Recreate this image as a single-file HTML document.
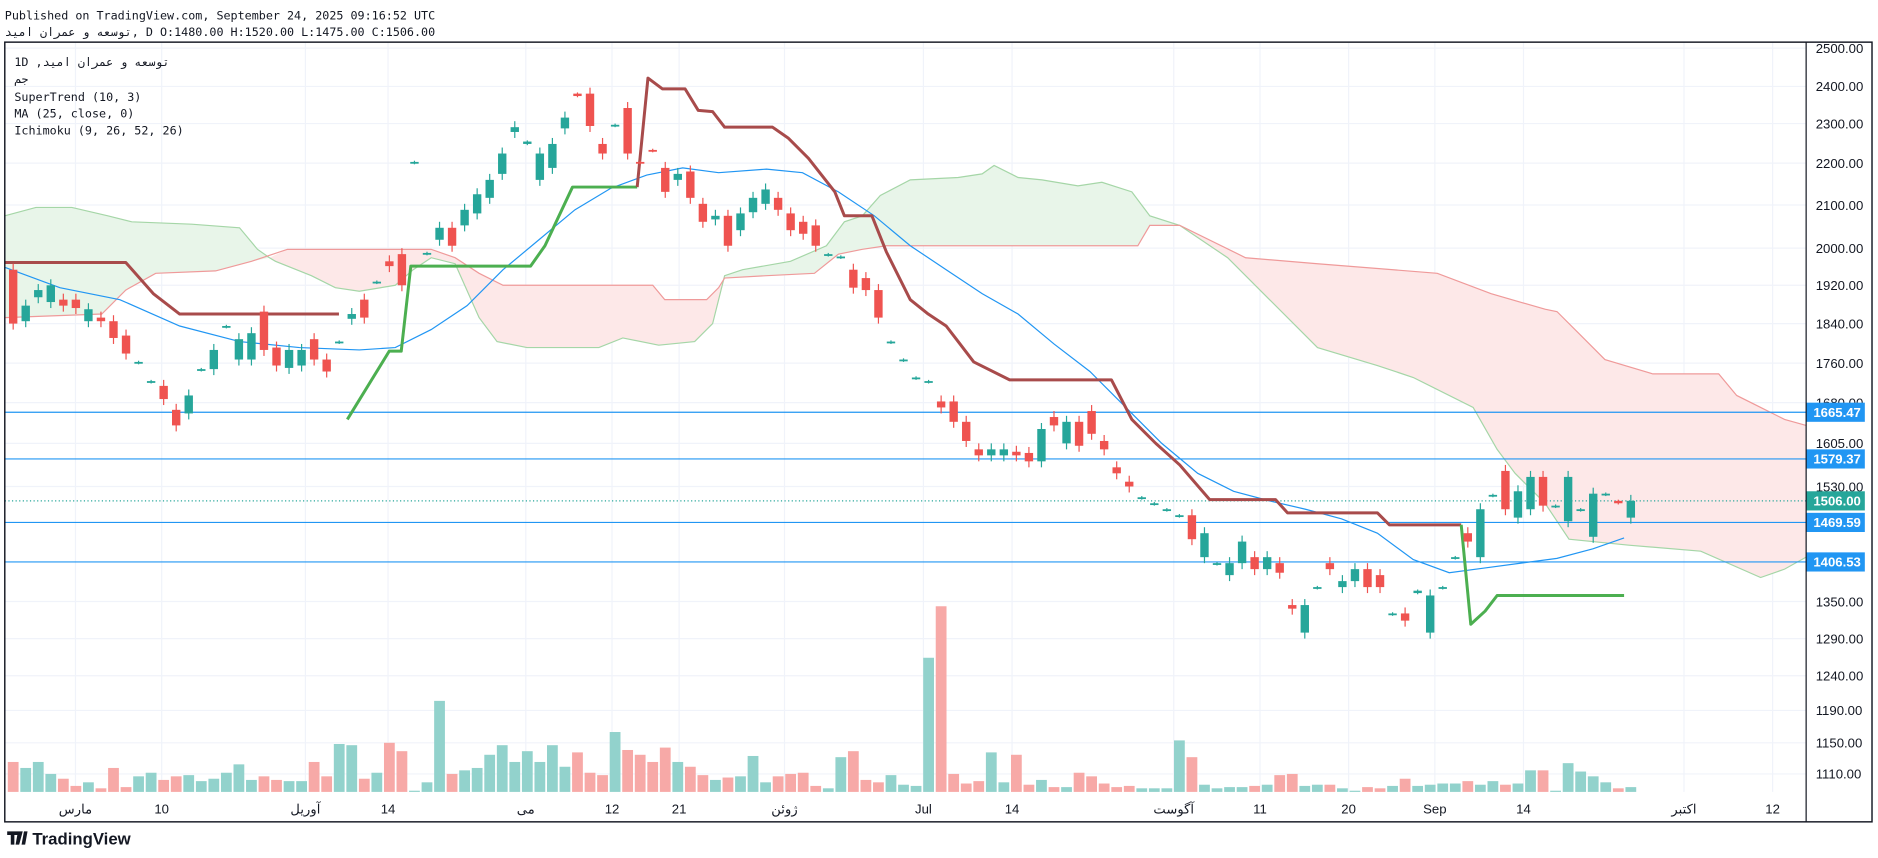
<!DOCTYPE html>
<html><head><meta charset="utf-8"><style>
html,body{margin:0;padding:0;background:#fff;}
svg{display:block}
text{font-family:"DejaVu Sans Mono","Liberation Mono","Noto Sans CJK SC",monospace;}
.ax{font-family:"Liberation Sans","Noto Sans CJK SC",sans-serif;}
</style></head><body>
<svg id="s" width="1878" height="858" viewBox="0 0 1568 716" xmlns="http://www.w3.org/2000/svg">
<rect width="1568" height="716" fill="#fff"/>
<g id="grid"></g>
<g id="cloud">
<polygon fill="#e8f5e9" points="4,180 30,173 60,173 90,180 110,185 160,187 200,190 215,208 225,215 210,218 180,226 130,228 105,242 85,262 4,265"/>
<polygon fill="#fde8e8" points="225,215 240,208 360,208 380,215 400,228 420,238 545,238 555,250 590,250 600,240 605,232 595,270 580,285 550,288 520,282 500,290 440,290 415,285 400,265 380,220 360,215 345,225 330,238 300,243 280,240 260,230 230,218"/>
<polygon fill="#e8f5e9" points="605,230 620,225 660,218 690,205 705,185 720,180 735,163 760,150 800,148 820,145 830,138 850,148 870,150 900,155 920,152 945,160 960,180 985,188 960,188 950,205 740,205 720,208 700,212 680,228 640,230 605,232"/>
<polygon fill="#fde8e8" points="985,188 1040,215 1100,220 1200,228 1245,245 1290,258 1300,260 1320,280 1340,300 1380,312 1435,312 1450,330 1470,340 1490,350 1508,355 1508,465 1490,475 1470,482 1420,460 1360,455 1310,450 1290,420 1265,395 1250,375 1230,340 1180,315 1150,305 1100,290 1060,250 1025,215"/>
<polyline fill="none" stroke="#a5d6a7" stroke-width="1" points="4,180 30,173 60,173 90,180 110,185 160,187 200,190 215,208 225,215 230,218 260,230 280,240 300,243 330,238 345,225 360,215 380,220 400,265 415,285 440,290 500,290 520,282 550,288 580,285 595,270 605,230 620,225 660,218 690,205 705,185 720,180 735,163 760,150 800,148 820,145 830,138 850,148 870,150 900,155 920,152 945,160 960,180 985,188 1025,215 1060,250 1100,290 1150,305 1180,315 1230,340 1250,375 1265,395 1290,420 1310,450 1360,455 1420,460 1470,482 1490,475 1508,465"/>
<polyline fill="none" stroke="#ef9a9a" stroke-width="1" points="4,265 85,262 105,242 130,228 180,226 210,218 240,208 360,208 380,215 400,228 420,238 545,238 555,250 590,250 600,240 605,232 640,230 680,228 700,212 720,208 740,205 950,205 960,188 985,188 1040,215 1100,220 1200,228 1245,245 1290,258 1300,260 1320,280 1340,300 1380,312 1435,312 1450,330 1470,340 1490,350 1508,355"/>
</g>
<g id="vol"></g>
<g id="hl"></g>
<polyline fill="none" stroke="#2196f3" stroke-width="1" points="4,223 50,240 100,250 150,272 200,285 250,290 300,292 330,290 360,275 390,255 420,225 450,200 480,175 510,157 540,146 570,140 600,144 640,141 670,144 700,160 730,180 760,205 790,225 820,245 850,262 880,287 910,310 940,340 970,370 1000,395 1030,410 1060,418 1090,425 1120,433 1150,445 1180,467 1210,478 1240,474 1270,470 1300,466 1330,458 1356,449"/>
<g fill="none" stroke-width="2.5" stroke-linejoin="round">
<polyline stroke="#a84b4b" points="4,219 105,219 128,245 150,262 283,262"/>
<polyline stroke="#4caf50" points="290,350 325,293 335,293 343,222 443,222 455,205 478,156 532,156"/>
<polyline stroke="#a84b4b" points="532,156 541,65 553,74 572,74 583,92 595,93 605,106 645,106 658,115 675,132 697,160 705,180 728,180 740,210 760,250 775,262 790,272 800,285 813,302 843,317 928,317 945,350 965,370 985,388 1010,417 1065,417 1075,428 1150,428 1160,438 1220,438"/>
<polyline stroke="#4caf50" points="1220,438 1228,521 1240,510 1250,497 1356,497"/>
</g>
<g id="candles"></g>
<g id="axis"></g>
<rect x="4" y="35" width="1559" height="651" fill="none" stroke="#131722" stroke-width="1.2"/>
<line x1="1508" y1="35" x2="1508" y2="686" stroke="#131722" stroke-width="1"/>
<text x="4" y="16" font-size="9.8" fill="#131722">Published on TradingView.com, September 24, 2025 09:16:52 UTC</text>
<text x="4" y="30" font-size="9.8" fill="#131722"><tspan>توسعه و عمران امید</tspan>, D O:1480.00 H:1520.00 L:1475.00 C:1506.00</text>
<g font-size="9.8" fill="#131722">
<text x="12" y="55">1D ,<tspan>توسعه و عمران امید</tspan></text>
<text x="12" y="69">جم</text>
<text x="12" y="84">SuperTrend (10, 3)</text>
<text x="12" y="98">MA (25, close, 0)</text>
<text x="12" y="112">Ichimoku (9, 26, 52, 26)</text>
</g>
<g fill="#131722">
<path d="M6 694h9v3h-3v8h-3v-8h-3z M15 694h4l-3 11h-3z M20 694h3l-2 11h-3z"/>
<text x="27" y="705" class="ax" font-size="14" font-weight="bold">TradingView</text>
</g>
</svg>
<script>
const NS="http://www.w3.org/2000/svg";
function el(p,t,a){const e=document.createElementNS(NS,t);for(const k in a)e.setAttribute(k,a[k]);document.getElementById(p).appendChild(e);return e;}
const ticks=[["2500.00",40],["2400.00",72],["2300.00",103],["2200.00",136],["2100.00",171],["2000.00",207],["1920.00",238],["1840.00",270],["1760.00",303],["1680.00",336],["1605.00",370],["1530.00",406],["1350.00",502],["1290.00",533],["1240.00",564],["1190.00",593],["1150.00",620],["1110.00",646]];
ticks.forEach(t=>{el("grid","line",{x1:4,x2:1508,y1:t[1],y2:t[1],stroke:"#f0f3fa"});
 const tx=el("axis","text",{x:1516,y:t[1]+4,"font-size":11,fill:"#131722",class:"ax"});tx.textContent=t[0];});
const tl=[["مارس",63],["10",135],["آوريل",255],["14",324],["می",439],["12",511],["21",567],["ژوئن",655],["Jul",771],["14",845],["آگوست",980],["11",1052],["20",1126],["Sep",1198],["14",1272],["اکتبر",1406],["12",1480]];
tl.forEach(t=>{el("grid","line",{x1:t[1],x2:t[1],y1:35,y2:661,stroke:"#f0f3fa"});
 const tx=el("axis","text",{x:t[1],y:679,"font-size":11,fill:"#131722","text-anchor":"middle",class:"ax"});tx.textContent=t[0];});
const C=[[225,270,'r'],[255,268,'g'],[242,248,'g'],[238,252,'g'],[250,255,'r'],[250,257,'r'],[258,268,'g'],[265,268,'r'],[268,282,'r'],[280,295,'r'],[302,303,'g'],[318,319,'g'],[322,333,'r'],[342,355,'r'],[330,345,'g'],[308,309,'g'],[292,308,'g'],[272,273,'g'],[283,300,'g'],[278,300,'g'],[260,292,'r'],[290,305,'r'],[292,307,'g'],[292,305,'g'],[283,300,'r'],[300,310,'r'],[285,286,'g'],[262,266,'g'],[250,265,'r'],[235,236,'g'],[218,222,'r'],[212,238,'r'],[135,136,'g'],[211,212,'g'],[190,200,'g'],[190,205,'r'],[175,188,'g'],[162,178,'g'],[150,165,'g'],[128,145,'g'],[106,110,'g'],[118,120,'g'],[128,150,'g'],[120,140,'g'],[98,107,'g'],[78,80,'r'],[78,105,'r'],[120,128,'r'],[104,105,'g'],[90,128,'r'],[135,136,'r'],[125,126,'r'],[140,160,'r'],[145,150,'g'],[143,165,'r'],[170,185,'r'],[180,183,'g'],[180,205,'r'],[178,192,'g'],[165,177,'g'],[158,170,'g'],[165,175,'r'],[178,192,'r'],[185,195,'r'],[188,205,'r'],[212,213,'g'],[214,215,'g'],[225,240,'r'],[232,242,'r'],[242,265,'r'],[285,286,'g'],[300,301,'g'],[315,316,'g'],[318,319,'g'],[335,340,'r'],[335,352,'r'],[352,368,'r'],[375,380,'r'],[375,380,'g'],[375,380,'g'],[377,380,'r'],[378,385,'r'],[358,385,'g'],[348,355,'r'],[352,370,'g'],[352,372,'r'],[343,362,'r'],[368,375,'r'],[390,395,'r'],[402,406,'r'],[415,416,'g'],[420,421,'g'],[425,426,'g'],[430,431,'g'],[430,450,'r'],[445,465,'g'],[470,471,'g'],[470,480,'g'],[452,470,'g'],[465,475,'r'],[465,475,'g'],[470,478,'r'],[505,508,'r'],[505,528,'g'],[490,491,'g'],[470,475,'r'],[485,490,'g'],[475,485,'g'],[475,490,'r'],[480,490,'r'],[512,513,'g'],[512,518,'r'],[493,495,'g'],[497,528,'g'],[490,491,'g'],[465,466,'g'],[445,452,'r'],[425,465,'g'],[413,414,'g'],[393,425,'r'],[410,432,'g'],[398,425,'g'],[398,422,'r'],[422,423,'g'],[398,435,'g'],[425,426,'g'],[412,448,'g'],[412,413,'g'],[418,420,'r'],[418,432,'g']];
const V=[25,20,25,15,11,5,8,3,20,4,13,16,10,13,14,9,11,16,23,10,13,10,9,9,25,13,40,39,11,16,41,34,1,8,76,15,18,20,31,39,25,34,25,39,21,33,16,14,50,35,31,25,37,25,21,14,10,12,13,30,8,13,15,16,5,3,29,34,10,8,14,6,5,112,155,15,7,9,33,8,31,6,10,4,4,16,13,7,4,5,3,3,3,43,29,6,3,4,4,5,6,14,15,5,6,6,3,1,4,3,5,11,5,6,7,7,9,6,9,6,7,18,18,1,24,17,13,8,3,4];
C.forEach((c,i)=>{const x=11+i*10.47;const col=c[2]=='g'?'#26a69a':'#ef5350';
 const v=V[i]||3;el("vol","rect",{x:x-4.5,y:661-v,width:9,height:v,fill:c[2]=='g'?'#92d2cc':'#f7a9a7'});
 const d=c[1]-c[0];const h=Math.max(d,1.5);const w=d<3?1:5;
 el("candles","line",{x1:x,x2:x,y1:c[0]-w,y2:c[1]+w,stroke:col,"stroke-width":1});
 el("candles","rect",{x:x-3.5,y:c[0],width:7,height:h,fill:col});});
const H=[[344,"1665.47","#2196f3"],[383,"1579.37","#2196f3"],[436,"1469.59","#2196f3"],[469,"1406.53","#2196f3"]];
H.forEach(h=>{el("hl","line",{x1:4,x2:1508,y1:h[0],y2:h[0],stroke:h[2],"stroke-width":1});});
el("hl","line",{x1:4,x2:1508,y1:418,y2:418,stroke:"#26a69a","stroke-width":1,"stroke-dasharray":"1,2"});
H.concat([[418,"1506.00","#26a69a"]]).forEach(h=>{el("axis","rect",{x:1508,y:h[0]-8,width:49,height:16,fill:h[2]});
 const t=el("axis","text",{x:1514,y:h[0]+4,"font-size":11,fill:"#fff","font-weight":"bold",class:"ax"});t.textContent=h[1];});
</script>
</body></html>
